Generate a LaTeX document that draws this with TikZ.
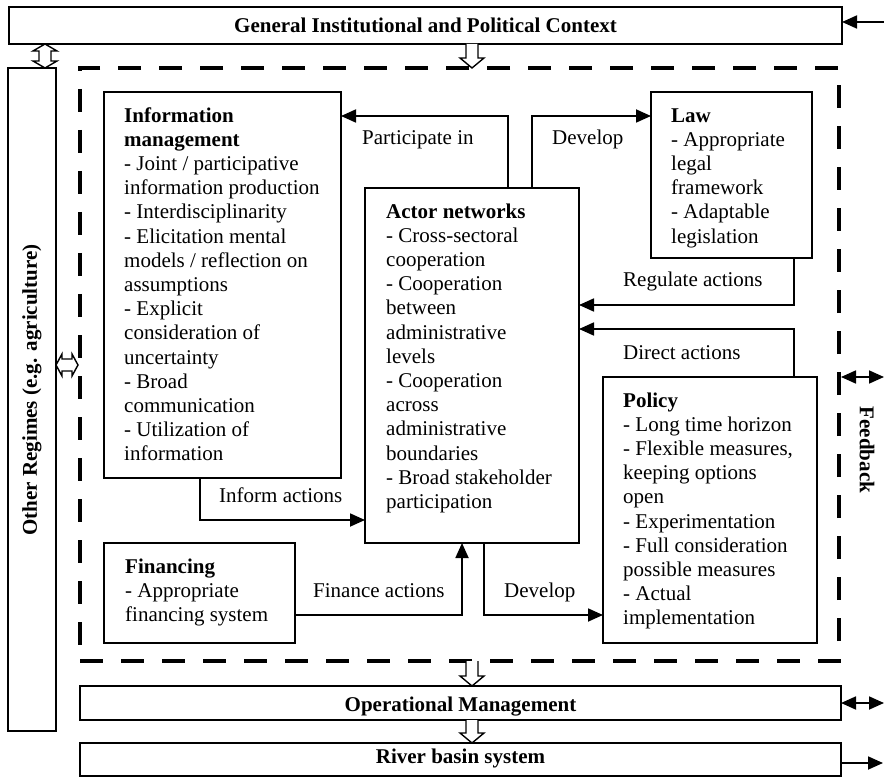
\documentclass[tikz,border=0pt]{standalone}
\usepackage{fontspec}
\setmainfont{Liberation Serif}
\usetikzlibrary{arrows.meta,calc}
\newcommand{\hollowDbV}[2]{\draw[hollow] let \p1=#1, \p2=#2 in
  (\x1,\y1) -- (\x1+12pt,\y1-7pt) -- (\x1+6pt,\y1-7pt) -- (\x1+6pt,\y2+7pt) -- (\x1+12pt,\y2+7pt) -- (\x1,\y2)
  -- (\x1-12pt,\y2+7pt) -- (\x1-6pt,\y2+7pt) -- (\x1-6pt,\y1-7pt) -- (\x1-12pt,\y1-7pt) -- cycle;}
\newcommand{\hollowDbH}[2]{\draw[hollow] let \p1=#1, \p2=#2 in
  (\x1,\y1) -- (\x1+6pt,\y1+11pt) -- (\x1+6pt,\y1+6pt) -- (\x2-6pt,\y1+6pt) -- (\x2-6pt,\y1+11pt) -- (\x2,\y1)
  -- (\x2-6pt,\y1-11pt) -- (\x2-6pt,\y1-6pt) -- (\x1+6pt,\y1-6pt) -- (\x1+6pt,\y1-11pt) -- cycle;}
\newcommand{\hollowDn}[2]{\draw[hollow] let \p1=#1, \p2=#2 in
  (\x1-6pt,\y1) -- (\x1-6pt,\y2+10pt) -- (\x1-12pt,\y2+10pt) -- (\x1,\y2) -- (\x1+12pt,\y2+10pt) -- (\x1+6pt,\y2+10pt) -- (\x1+6pt,\y1);}
\tikzset{
  box/.style={draw, line width=1.6pt, anchor=north west, inner sep=0pt, outer sep=0pt},
  body/.style={font=\fontsize{21}{24.2}\selectfont, align=left, inner sep=0pt, anchor=north west},
  head/.style={font=\fontsize{21}{24.2}\selectfont\bfseries, inner sep=0pt},
  lbl/.style={font=\fontsize{21}{24.2}\selectfont, inner sep=0pt, anchor=base west},
  conn/.style={line width=1.8pt, -{Triangle[length=15pt,width=13pt]}},
  conn2/.style={line width=1.8pt, {Triangle[length=15pt,width=13pt]}-{Triangle[length=15pt,width=13pt]}},
  hollow/.style={line width=1.4pt, fill=white},
  frame/.style={draw, line width=4.5pt, dash pattern=on 23pt off 18pt, anchor=north west, inner sep=0pt, outer sep=0pt},
}
\begin{document}
\begin{tikzpicture}[x=1pt,y=-1pt]
\useasboundingbox (0,0) rectangle (884,778);
% outer context
\node[box, minimum width=833pt, minimum height=37pt] (top) at (9,7) {};
\node[head] (toptxt) at (top.center) {General Institutional and Political Context};
\node[box, minimum width=48pt, minimum height=663pt] (oth) at (8,68) {};
\node[head, rotate=90] (othtxt) at (32,390) {Other Regimes (e.g. agriculture)};
\node[frame, minimum width=759pt, minimum height=593pt] (core) at (80,68) {};
\node[head, rotate=-90] (fbtxt) at (867,450) {Feedback};
\node[box, minimum width=761pt, minimum height=34pt] (opm) at (80,686) {};
\node[head, anchor=base] (opmtxt) at (460.5,711) {Operational Management};
\node[box, minimum width=761pt, minimum height=33pt] (river) at (80,743) {};
\node[head, anchor=base] (rivertxt) at (460.5,763) {River basin system};
% inner boxes
\node[box, minimum width=237pt, minimum height=386pt] (info) at (104,92) {};
\node[body] (infotxt) at ($(info.north west)+(20,13)$) {\strut\textbf{Information}\\ \textbf{management}\\ - Joint / participative\\ information production\\ - Interdisciplinarity\\ - Elicitation mental\\ models / reflection on\\ assumptions\\ - Explicit\\ consideration of\\ uncertainty\\ - Broad\\ communication\\ - Utilization of\\ information};
\node[box, minimum width=214pt, minimum height=355pt] (actor) at (365,188) {};
\node[body] (actortxt) at ($(actor.north west)+(21,13)$) {\strut\textbf{Actor networks}\\ - Cross-sectoral\\ cooperation\\ - Cooperation\\ between\\ administrative\\ levels\\ - Cooperation\\ across\\ administrative\\ boundaries\\ - Broad stakeholder\\ participation};
\node[box, minimum width=161pt, minimum height=166pt] (law) at (651,92) {};
\node[body] (lawtxt) at ($(law.north west)+(20,13)$) {\strut\textbf{Law}\\ - Appropriate\\ legal\\ framework\\ - Adaptable\\ legislation};
\node[box, minimum width=214pt, minimum height=266pt] (policy) at (603,377) {};
\node[body] (policytxt) at ($(policy.north west)+(20,13)$) {\strut\textbf{Policy}\\ - Long time horizon\\ - Flexible measures,\\ keeping options\\ open\\ - Experimentation\\ - Full consideration\\ possible measures\\ - Actual\\ implementation};
\node[box, minimum width=191pt, minimum height=100pt] (fin) at (104,543) {};
\node[body] (fintxt) at ($(fin.north west)+(21,13)$) {\strut\textbf{Financing}\\ - Appropriate\\ financing system};
% connectors
\draw[conn] ($(actor.north west)+(143,0)$) |- ($(info.north east)+(0,24)$);
\draw[conn] ($(actor.north west)+(167,0)$) |- ($(law.north west)+(0,24)$);
\draw[conn] ($(law.south west)+(143,0)$) |- ($(actor.north east)+(0,117)$);
\draw[conn] ($(policy.north west)+(191,0)$) |- ($(actor.north east)+(0,141)$);
\draw[conn] ($(info.south west)+(96,0)$) |- ($(actor.north west)+(0,332)$);
\draw[conn] ($(fin.north east)+(0,72)$) -| ($(actor.south west)+(97,0)$);
\draw[conn] ($(actor.south west)+(119,0)$) |- ($(policy.north west)+(0,238)$);
% labels
\node[lbl] (l1) at (362,145) {Participate in};
\node[lbl] (l2) at (552,145) {Develop};
\node[lbl] (l3) at (623,287) {Regulate actions};
\node[lbl] (l4) at (623,359) {Direct actions};
\node[lbl] (l5) at (219,502) {Inform actions};
\node[lbl] (l6) at (313,597) {Finance actions};
\node[lbl] (l7) at (504,597) {Develop};
% outer arrows
\coordinate (ctxin) at (884,22);
\draw[conn] (ctxin) -- (ctxin -| top.east);
\coordinate (fbend) at (884,377);
\draw[conn2] ($(fbend -| core.east)+(2,0)$) -- (fbend);
\coordinate (opmend) at (884,703);
\draw[conn2] (opm.east) -- (opmend);
\coordinate (rivend) at (883,763);
\draw[conn] (rivend -| river.east) -- (rivend);
% hollow arrows
\hollowDbV{($(top.south west)+(36,0)$)}{(oth.north)}
\hollowDn{($(top.south west)+(463,0)$)}{(core.north)}
\hollowDbH{($(oth.north east)+(0,297)$)}{($(core.west)+(-2,0)$)}
\hollowDn{($(core.south west)+(392,0)$)}{(opm.north)}
\hollowDn{($(opm.south west)+(392,0)$)}{(river.north)}
\end{tikzpicture}
\end{document}
